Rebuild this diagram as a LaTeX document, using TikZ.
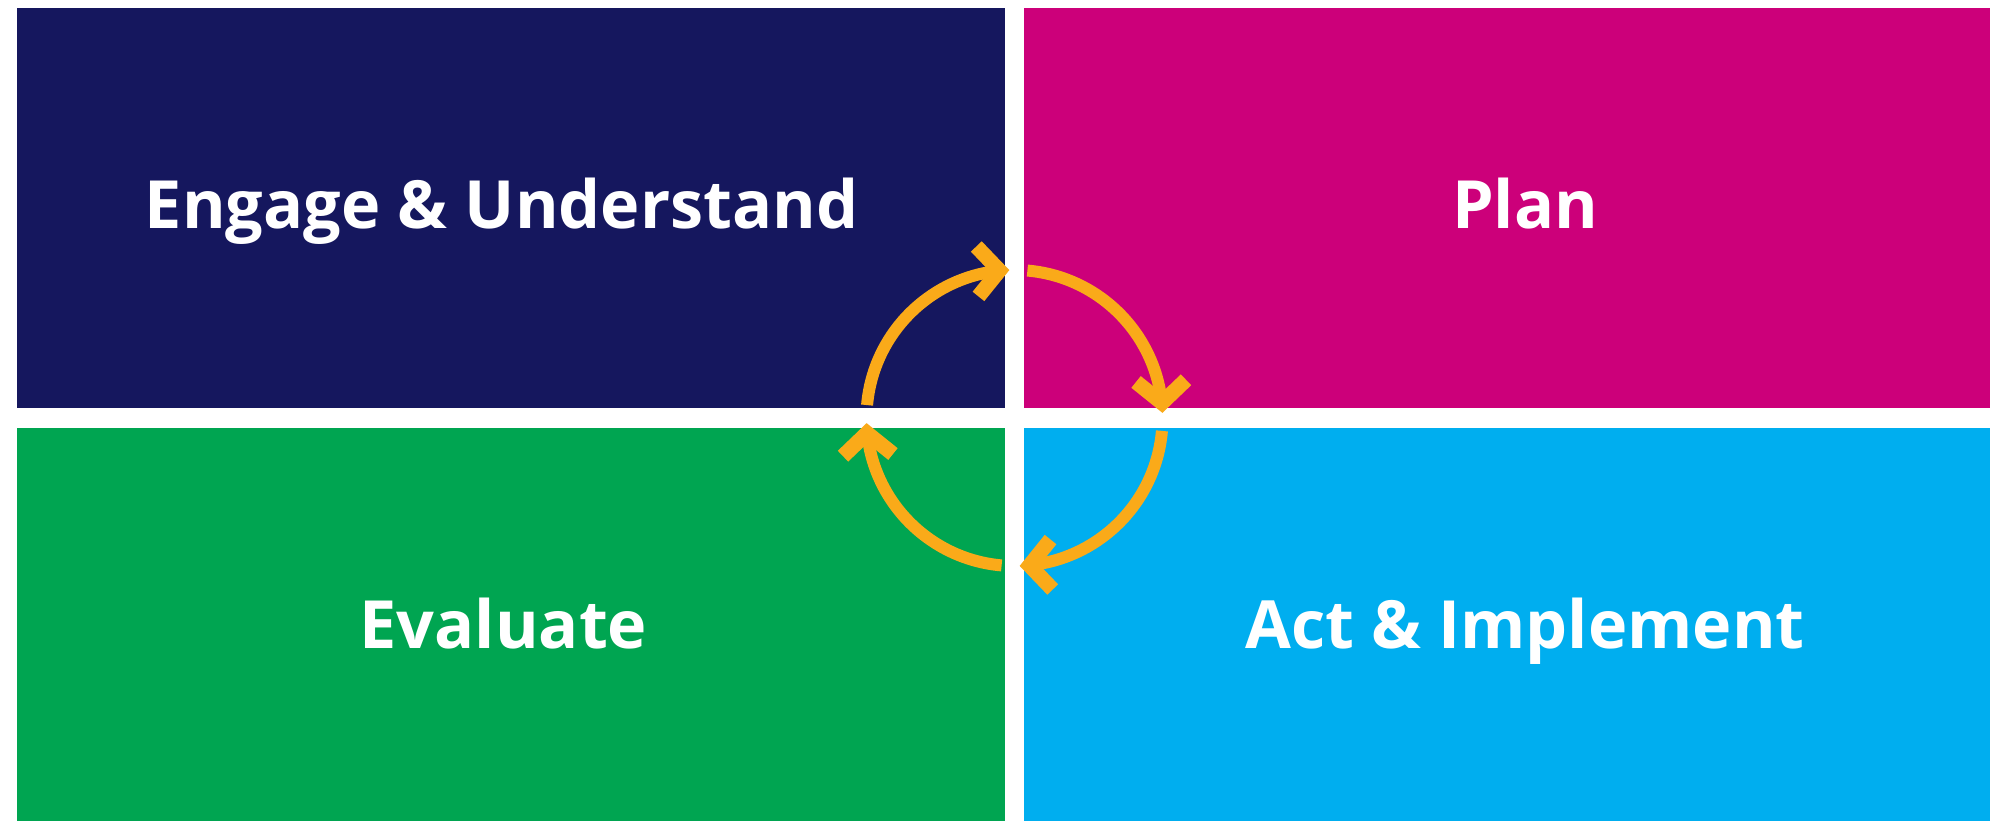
\documentclass[tikz,border=0pt]{standalone}
\usepackage{fontspec}
\setmainfont{Open Sans}
\usetikzlibrary{arrows.meta,bending,calc}
\definecolor{navy}{RGB}{21,23,94}
\definecolor{magenta}{RGB}{204,0,122}
\definecolor{grn}{RGB}{0,165,81}
\definecolor{cyan}{RGB}{0,174,239}
\definecolor{orng}{RGB}{250,170,25}
\tikzset{
  lbl/.style={anchor=base, text=white, inner sep=0pt,
    font=\fontsize{66.5}{72}\selectfont\bfseries},
  cyc/.style={draw=orng, line width=12pt, line cap=butt,
    -{Straight Barb[length=22pt,width=50pt,line width=15pt,flex]}}
}
\begin{document}
\begin{tikzpicture}[x=1pt,y=1pt]
  \useasboundingbox (0,0) rectangle (1990,821);
  \fill[white] (0,0) rectangle (1990,821);
  % quadrants
  \fill[navy]    (17,413)   rectangle (1005,813) coordinate (qtl);
  \fill[magenta] (1024,413) rectangle (1990,813) coordinate (qtr);
  \fill[grn]     (17,0)     rectangle (1005,393) coordinate (qbl);
  \fill[cyan]    (1024,0)   rectangle (1990,393) coordinate (qbr);
  % labels
  \node[lbl] (engage) at (501.5,592) {Engage \& Understand};
  \node[lbl] (plan)   at (1525,592)  {Plan};
  \node[lbl] (eval)   at (503.5,172) {Evaluate};
  \node[lbl] (act)    at (1525,172)  {Act \& Implement};
  % cycle arrows
  \coordinate (c) at (1014.5,403);
  \draw[cyc] ($(c)+(175:148)$) arc[start angle=175, end angle=92, radius=148];
  \draw[cyc] ($(c)+(85:148)$)  arc[start angle=85,  end angle=2,  radius=148];
  \draw[cyc] ($(c)+(-5:148)$)  arc[start angle=-5,  end angle=-88, radius=148];
  \draw[cyc] ($(c)+(-95:148)$) arc[start angle=-95, end angle=-178, radius=148];
\end{tikzpicture}
\end{document}
